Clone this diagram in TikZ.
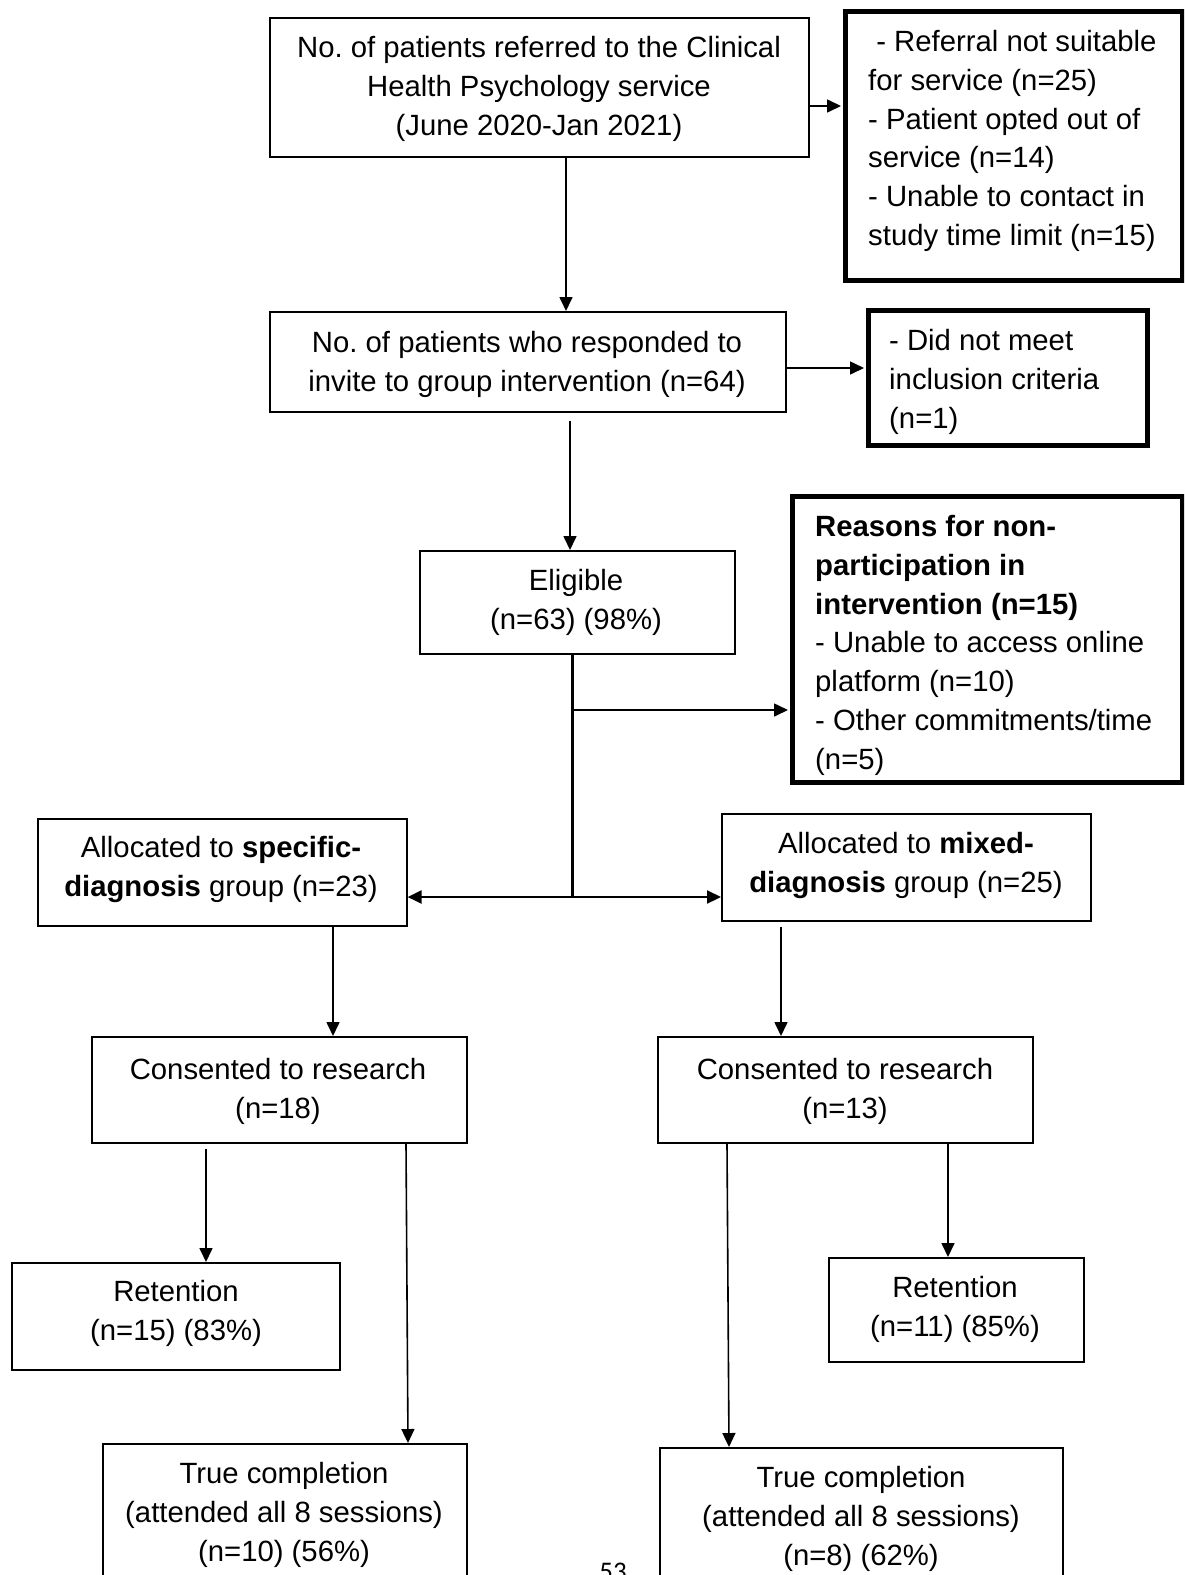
\documentclass[tikz,border=0pt]{standalone}
\usepackage{fontspec}
\setmainfont{Liberation Sans}
\newfontfamily\pagenumfont{Carlito}
\usetikzlibrary{arrows.meta}
\frenchspacing

\begin{document}
\begin{tikzpicture}[x=1pt,y=-1pt,
  box/.style={draw, line width=1.6pt, anchor=north west, inner sep=0pt},
  heavybox/.style={draw, line width=4.5pt, anchor=north west, inner sep=0pt},
  txt/.style={inner sep=0pt, font=\fontsize{29.3}{38.8}\selectfont},
  ctext/.style={txt, align=center, anchor=north},
  ltext/.style={txt, align=left, anchor=north west},
  link/.style={line width=1.6pt, -{Triangle[length=14pt,width=13pt]}},
  hlink/.style={line width=2.2pt, -{Triangle[length=14pt,width=13pt]}},
  trunk/.style={line width=3pt},
]
\useasboundingbox (0,0) rectangle (1184,1575);
\fill[white] (0,0) rectangle (1184,1575);
\clip (0,0) rectangle (1184,1575);

% boxes
\node[box, minimum width=539pt, minimum height=139pt] (b1) at (269,17) {};
\node[heavybox, minimum width=337pt, minimum height=269pt] (r1) at (843,9) {};
\node[box, minimum width=516pt, minimum height=100pt] (b2) at (269,311) {};
\node[heavybox, minimum width=279pt, minimum height=135pt] (r2) at (866,308) {};
\node[box, minimum width=315pt, minimum height=103pt] (elig) at (419,550) {};
\node[heavybox, minimum width=390pt, minimum height=286pt] (r3) at (790,494) {};
\node[box, minimum width=369pt, minimum height=107pt] (aL) at (37,818) {};
\node[box, minimum width=369pt, minimum height=107pt] (aR) at (721,813) {};
\node[box, minimum width=375pt, minimum height=106pt] (cL) at (91,1036) {};
\node[box, minimum width=375pt, minimum height=106pt] (cR) at (657,1036) {};
\node[box, minimum width=328pt, minimum height=107pt] (rL) at (11,1262) {};
\node[box, minimum width=255pt, minimum height=104pt] (rR) at (828,1257) {};
\node[box, minimum width=364pt, minimum height=200pt] (tL) at (102,1443) {};
\node[box, minimum width=403pt, minimum height=200pt] (tR) at (659,1447) {};

% texts
\node[ctext] (b1t) at (539,36) {No. of patients referred to the Clinical\\Health Psychology service\\(June 2020-Jan 2021)};
\node[ltext] (r1t) at (868,30) {\hspace*{0.278em}- Referral not suitable\\for service (n=25)\\- Patient opted out of\\service (n=14)\\- Unable to contact in\\study time limit (n=15)};
\node[ctext] (b2t) at (527,331) {No. of patients who responded to\\invite to group intervention (n=64)};
\node[ltext] (r2t) at (889,329) {- Did not meet\\inclusion criteria\\(n=1)};
\node[ctext] (eligt) at (576,569) {Eligible\\(n=63) (98\%)};
\node[ltext] (r3t) at (815,515) {\textbf{Reasons for non-}\\\textbf{participation in}\\\textbf{intervention (n=15)}\\- Unable to access online\\platform (n=10)\\- Other commitments/time\\(n=5)};
\node[ctext] (aLt) at (221,836) {Allocated to \textbf{specific-}\\\textbf{diagnosis} group (n=23)};
\node[ctext] (aRt) at (906,832) {Allocated to \textbf{mixed-}\\\textbf{diagnosis} group (n=25)};
\node[ctext] (cLt) at (278,1058) {Consented to research\\(n=18)};
\node[ctext] (cRt) at (845,1058) {Consented to research\\(n=13)};
\node[ctext] (rLt) at (176,1280) {Retention\\(n=15) (83\%)};
\node[ctext] (rRt) at (955,1276) {Retention\\(n=11) (85\%)};
\node[ctext] (tLt) at (284,1462) {True completion\\(attended all 8 sessions)\\(n=10) (56\%)};
\node[ctext] (tRt) at (861,1466) {True completion\\(attended all 8 sessions)\\(n=8) (62\%)};
\node[font=\pagenumfont\fontsize{26.9}{30}\selectfont, anchor=base, inner sep=0pt] (pg) at (613,1580) {53};

% connector positions
\coordinate (y1) at (0,106);
\coordinate (x1) at (566,0);
\coordinate (y2) at (0,368);
\coordinate (x2) at (570,0);
\coordinate (br) at (572,710);
\coordinate (tr) at (572,897);
\coordinate (xaL) at (333,0);
\coordinate (xaR) at (781,0);
\coordinate (xrL) at (206,0);
\coordinate (xtL1) at (406,0);
\coordinate (xtL2) at (408,0);
\coordinate (xrR) at (948,0);
\coordinate (xtR1) at (727,0);
\coordinate (xtR2) at (729,0);

% connectors
\draw[link, shorten >=2pt] (b1.east |- y1) -- (r1.west |- y1);
\draw[link] (b1.south -| x1) -- (b2.north -| x1);
\draw[link, shorten >=2pt] (b2.east |- y2) -- (r2.west |- y2);
\draw[link, shorten <=8pt] (b2.south -| x2) -- (elig.north -| x2);
\draw[trunk] (elig.south -| tr) -- (tr);
\draw[link, shorten >=2pt] (br) -- (r3.west |- br);
\draw[hlink] (tr) -- (aL.east |- tr);
\draw[hlink] (tr) -- (aR.west |- tr);
\draw[link] (aL.south -| xaL) -- (cL.north -| xaL);
\draw[link, shorten <=5pt] (aR.south -| xaR) -- (cR.north -| xaR);
\draw[link, shorten <=5pt] (cL.south -| xrL) -- (rL.north -| xrL);
\draw[link] (cL.south -| xtL1) -- (tL.north -| xtL2);
\draw[link] (cR.south -| xrR) -- (rR.north -| xrR);
\draw[link] (cR.south -| xtR1) -- (tR.north -| xtR2);
\end{tikzpicture}
\end{document}
